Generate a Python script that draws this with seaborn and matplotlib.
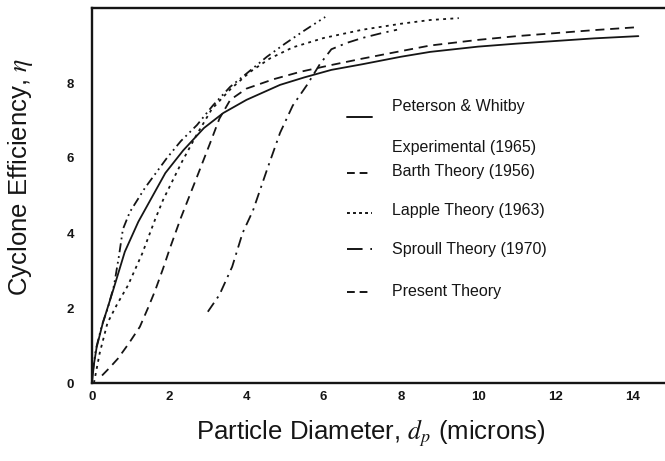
import matplotlib
matplotlib.use("Agg")
import matplotlib.pyplot as plt
import seaborn as sns
from matplotlib.lines import Line2D

# ---------------- data ----------------
pw_x = [0, 0.05, 0.12, 0.28, 0.54, 0.85, 1.2, 1.55, 1.9, 2.36, 2.9, 3.4, 4.0, 4.87,
        5.5, 6.2, 7.0, 8.0, 8.76, 10.0, 11.0, 12.0, 13.0, 14.15]
pw_y = [0, 0.5, 0.95, 1.6, 2.45, 3.5, 4.3, 4.95, 5.6, 6.2, 6.8, 7.2, 7.55, 7.95,
        8.15, 8.35, 8.5, 8.7, 8.83, 8.97, 9.05, 9.12, 9.19, 9.25]

barth_x = [0.02, 0.1, 0.26, 0.41, 0.57, 0.7, 0.8, 0.98, 1.37, 1.94, 2.3, 2.72, 3.13,
           3.58, 4.0, 4.53, 5.0, 5.5, 6.04]
barth_y = [0.3, 0.9, 1.55, 2.0, 2.6, 3.4, 4.1, 4.56, 5.2, 6.0, 6.45, 6.88, 7.4,
           7.9, 8.25, 8.7, 9.05, 9.4, 9.76]

lapple_x = [0.05, 0.2, 0.4, 0.65, 0.93, 1.3, 1.63, 1.84, 2.07, 2.33, 2.7, 3.1, 3.6,
            4.1, 4.6, 5.2, 6.0, 7.0, 8.0, 8.76, 9.5]
lapple_y = [0.0, 0.8, 1.6, 2.1, 2.6, 3.45, 4.35, 4.88, 5.36, 5.9, 6.6, 7.3, 7.85,
            8.3, 8.65, 8.95, 9.2, 9.42, 9.58, 9.68, 9.73]

sproull_x = [3.0, 3.3, 3.63, 3.9, 4.17, 4.53, 4.87, 5.2, 5.57, 5.9, 6.2, 6.6, 7.0, 7.5, 7.9]
sproull_y = [1.9, 2.35, 3.1, 4.0, 4.6, 5.68, 6.67, 7.4, 7.95, 8.5, 8.9, 9.07, 9.2, 9.33, 9.42]

present_x = [0.26, 0.45, 0.67, 0.95, 1.24, 1.45, 1.63, 1.84, 2.02, 2.3, 2.72, 3.06, 3.3,
             3.58, 4.0, 4.7, 5.4, 6.2, 7.0, 8.0, 8.76, 10.0, 11.0, 12.0, 13.0, 14.15]
present_y = [0.2, 0.4, 0.65, 1.05, 1.5, 2.0, 2.45, 3.05, 3.6, 4.4, 5.5, 6.4, 7.05,
             7.55, 7.85, 8.1, 8.3, 8.48, 8.65, 8.85, 9.0, 9.15, 9.25, 9.33, 9.41, 9.49]

x_ticks = [0, 2, 4, 6, 8, 10, 12, 14]
x_tick_labels = ["0", "2", "4", "6", "8", "10", "12", "14"]
y_ticks = [0, 2, 4, 6, 8]
y_tick_labels = ["0", "2", "4", "6", "8"]

legend_labels = ["Peterson & Whitby", "Experimental (1965)", "Barth Theory (1956)",
                 "Lapple Theory (1963)", "Sproull Theory (1970)", "Present Theory"]

# ---------------- style ----------------
sns.set_theme(style="white")
plt.rcParams['font.family'] = ['Liberation Sans', 'DejaVu Sans']
plt.rcParams['mathtext.fontset'] = 'stix'

INK = "#151515"

fig = plt.figure(figsize=(6.65, 4.61), dpi=100)
ax = fig.add_axes([92 / 665, 1 - 383 / 461, (665 - 92) / 665, 375 / 461])

styles = {
    "pw": "-",
    "barth": (0, (5, 2.2, 1, 2.2, 1, 2.2)),
    "lapple": (0, (1.6, 2.4)),
    "sproull": (0, (6, 3, 1.2, 3)),
    "present": (0, (5, 3.2)),
}
series = [
    (pw_x, pw_y, styles["pw"]),
    (barth_x, barth_y, styles["barth"]),
    (lapple_x, lapple_y, styles["lapple"]),
    (sproull_x, sproull_y, styles["sproull"]),
    (present_x, present_y, styles["present"]),
]
for xs, ys, ls in series:
    sns.lineplot(x=xs, y=ys, ax=ax, color=INK, linewidth=1.3, linestyle=ls,
                 sort=False, estimator=None)

ax.set_xlim(0, 14.84)
ax.set_ylim(0, 10)

ax.set_xticks(x_ticks)
ax.set_xticklabels(x_tick_labels, fontsize=9.5, fontweight="bold", color=INK)
ax.set_yticks(y_ticks)
ax.set_yticklabels(y_tick_labels, fontsize=9.5, fontweight="bold", color=INK)
ax.tick_params(axis="x", direction="in", length=2, pad=6, color=INK)
ax.tick_params(axis="y", direction="in", length=2, pad=13, color=INK)

for side in ["left", "bottom", "top"]:
    ax.spines[side].set_visible(True)
    ax.spines[side].set_color(INK)
    ax.spines[side].set_linewidth(1.7)
ax.spines["right"].set_visible(False)

ax.set_xlabel("Particle Diameter, $d_p$ (microns)", fontsize=18.5, color=INK)
ax.set_ylabel("Cyclone Efficiency, $\\eta$", fontsize=18.5, color=INK)
ax.xaxis.set_label_coords(0.487, -0.092)
ax.yaxis.set_label_coords(-0.10, 0.55)

# ---------------- legend (manual layout like the original) ----------------
hx0, hx1, tx = 0.445, 0.489, 0.523
handle_y = [0.709, 0.560, 0.453, 0.357, 0.243]
text_y = [0.736, 0.629, 0.563, 0.459, 0.357, 0.243]
handle_styles = [styles["pw"], (0, (4, 2.5)), (0, (1.5, 1.6)), (0, (8, 4, 1.2, 4)), (0, (4, 2.5))]
for hy, ls in zip(handle_y, handle_styles):
    ax.add_line(Line2D([hx0, hx1], [hy, hy], transform=ax.transAxes, color=INK,
                       linewidth=1.4, linestyle=ls))
for ty, lab in zip(text_y, legend_labels):
    ax.text(tx, ty, lab, transform=ax.transAxes, fontsize=11.5, color=INK,
            ha="left", va="center")

fig.savefig("out.png", dpi=100, facecolor="white")
